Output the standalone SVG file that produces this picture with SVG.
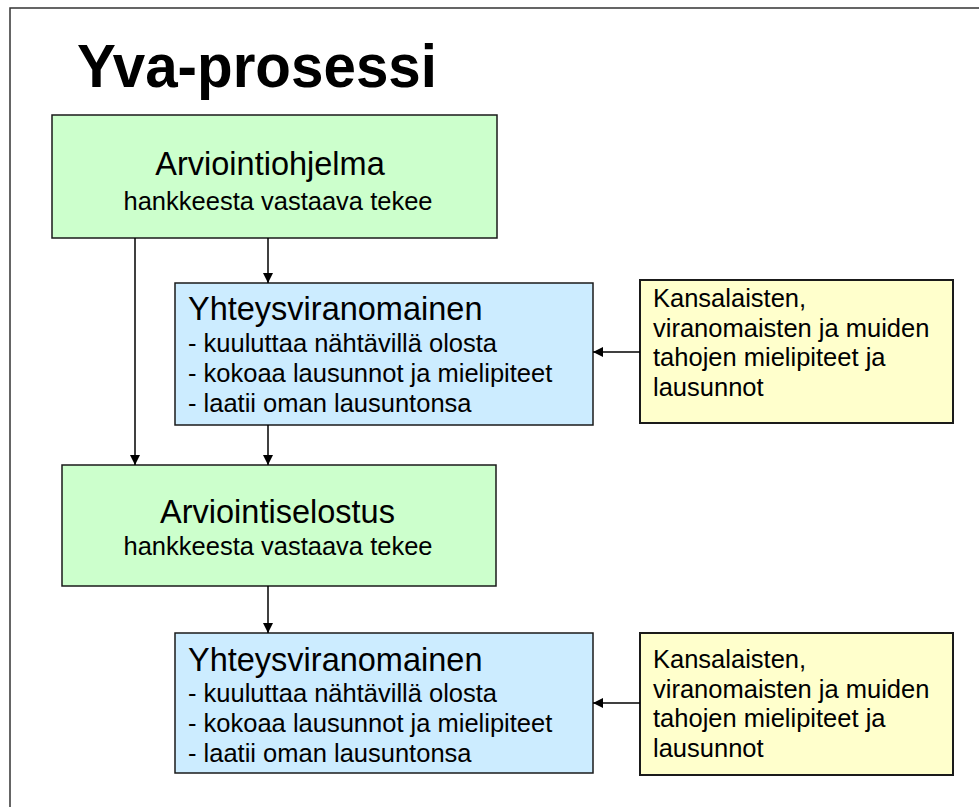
<svg xmlns="http://www.w3.org/2000/svg" width="979" height="807" viewBox="0 0 979 807">
<style>
text{font-family:"Liberation Sans",Arial,sans-serif;fill:#000}
.t{font-size:32.5px}
.b{font-size:25.5px}
.green{fill:#CCFFCC;stroke:#1a1a1a;stroke-width:1.5}
.blue{fill:#CCECFF;stroke:#1a1a1a;stroke-width:1.5}
.yellow{fill:#FFFFCC;stroke:#1a1a1a;stroke-width:2}
.c{stroke:#000;stroke-width:1.5;fill:none}
</style>
<defs>
<marker id="ah" markerWidth="12" markerHeight="12" refX="10" refY="5.5" orient="auto" markerUnits="userSpaceOnUse">
<path d="M0,0.5 L10,5.5 L0,10.5 Z" fill="#000"/>
</marker>
</defs>
<rect width="979" height="807" fill="#fff"/>
<path d="M10,807 V8 H979" fill="none" stroke="#333" stroke-width="1.5"/>
<text x="77" y="87" font-size="61" font-weight="bold" textLength="360" lengthAdjust="spacingAndGlyphs">Yva-prosessi</text>

<g id="arviointiohjelma">
<rect class="green" x="52" y="115" width="445" height="123"/>
<text class="t" x="270" y="175" text-anchor="middle">Arviointiohjelma</text>
<text class="b" x="278" y="210" text-anchor="middle">hankkeesta vastaava tekee</text>
</g>

<g id="yhteys1">
<rect class="blue" x="175" y="283" width="418" height="142"/>
<text class="t" x="188" y="320">Yhteysviranomainen</text>
<text class="b" x="188" y="352">- kuuluttaa nähtävillä olosta</text>
<text class="b" x="188" y="382">- kokoaa lausunnot ja mielipiteet</text>
<text class="b" x="188" y="412">- laatii oman lausuntonsa</text>
</g>

<g id="kansalaiset1">
<rect class="yellow" x="640" y="280" width="313" height="143"/>
<text class="b" x="653" y="307">Kansalaisten,</text>
<text class="b" x="653" y="337">viranomaisten ja muiden</text>
<text class="b" x="653" y="366">tahojen mielipiteet ja</text>
<text class="b" x="653" y="396">lausunnot</text>
</g>

<g id="arviointiselostus">
<rect class="green" x="62" y="465" width="434" height="121"/>
<text class="t" x="277.5" y="523" text-anchor="middle">Arviointiselostus</text>
<text class="b" x="278" y="555" text-anchor="middle">hankkeesta vastaava tekee</text>
</g>

<g id="yhteys2">
<rect class="blue" x="175" y="633" width="418" height="140"/>
<text class="t" x="188" y="671">Yhteysviranomainen</text>
<text class="b" x="188" y="702">- kuuluttaa nähtävillä olosta</text>
<text class="b" x="188" y="732">- kokoaa lausunnot ja mielipiteet</text>
<text class="b" x="188" y="762">- laatii oman lausuntonsa</text>
</g>

<g id="kansalaiset2">
<rect class="yellow" x="640" y="633" width="313" height="142"/>
<text class="b" x="653" y="668">Kansalaisten,</text>
<text class="b" x="653" y="698">viranomaisten ja muiden</text>
<text class="b" x="653" y="727">tahojen mielipiteet ja</text>
<text class="b" x="653" y="757">lausunnot</text>
</g>

<g id="connectors">
<line class="c" x1="135" y1="238" x2="135" y2="465" marker-end="url(#ah)"/>
<line class="c" x1="268" y1="238" x2="268" y2="283" marker-end="url(#ah)"/>
<line class="c" x1="268" y1="425" x2="268" y2="465" marker-end="url(#ah)"/>
<line class="c" x1="268" y1="586" x2="268" y2="633" marker-end="url(#ah)"/>
<line class="c" x1="640" y1="352" x2="593" y2="352" marker-end="url(#ah)"/>
<line class="c" x1="640" y1="703" x2="593" y2="703" marker-end="url(#ah)"/>
</g>
</svg>
